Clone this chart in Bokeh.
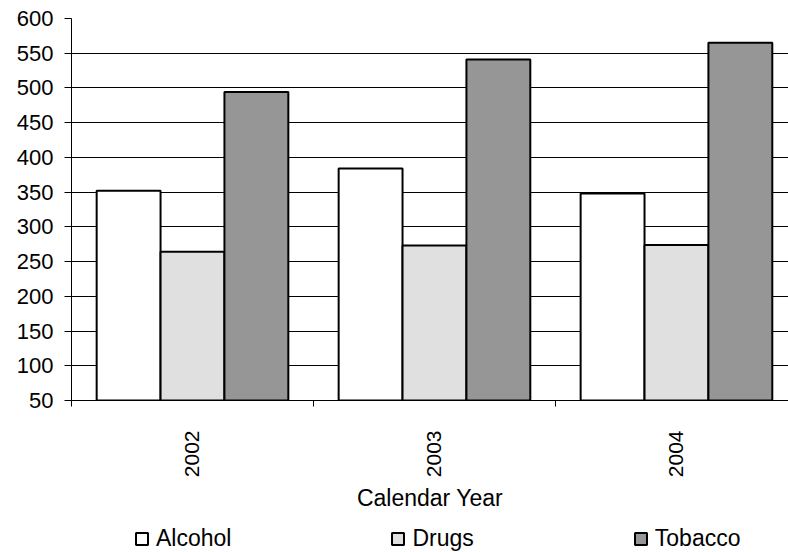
import math
from bokeh.plotting import figure
from bokeh.layouts import column
from bokeh.models import (ColumnDataSource, Range1d, FixedTicker, Legend, LegendItem)
from bokeh.transform import dodge
from bokeh.embed import file_html
from bokeh.resources import INLINE

years = ["2002", "2003", "2004"]
alcohol = [352, 384, 348]
drugs = [264, 273, 274]
tobacco = [494, 541, 565]
series_names = ["Alcohol", "Drugs", "Tobacco"]
series_colors = ["#FFFFFF", "#E0E0E0", "#969696"]
y_ticks = list(range(50, 601, 50))

pos = [i + 0.5 for i in range(len(years))]
src = ColumnDataSource(dict(pos=pos, Alcohol=alcohol, Drugs=drugs, Tobacco=tobacco))

FONT = "Liberation Sans"

p = figure(width=788, height=517, output_backend="svg", toolbar_location=None,
           x_range=Range1d(0, 2.963), y_range=Range1d(50, 600),
           min_border_left=71, min_border_right=0, min_border_top=18, min_border_bottom=117)
p.outline_line_color = None
p.background_fill_color = "white"
p.border_fill_color = "white"

bw = 0.264
offsets = [-bw, 0.0, bw]
for name, col, off in zip(series_names, series_colors, offsets):
    p.vbar(x=dodge("pos", off), top=name, bottom=50, width=bw, source=src,
           fill_color=col, line_color="black", line_width=2)

# x axis
xa = p.xaxis[0]
xa.ticker = FixedTicker(ticks=pos, minor_ticks=[0, 1, 2, 3])
xa.major_label_overrides = {pv: y for pv, y in zip(pos, years)}
xa.major_tick_out = 0
xa.major_tick_in = 0
xa.minor_tick_out = 6
xa.minor_tick_in = 0
xa.minor_tick_line_color = "black"
xa.axis_line_color = "black"
xa.major_label_orientation = math.pi / 2
xa.major_label_standoff = 24
xa.major_label_text_font = FONT
xa.major_label_text_font_size = "21px"
xa.major_label_text_color = "black"
xa.axis_label = "Calendar Year"
xa.axis_label_text_font = FONT
xa.axis_label_text_font_size = "23px"
xa.axis_label_text_font_style = "normal"
xa.axis_label_text_color = "black"
xa.axis_label_standoff = 5

# y axis
ya = p.yaxis[0]
ya.ticker = FixedTicker(ticks=y_ticks)
ya.major_tick_out = 7
ya.major_tick_in = 0
ya.minor_tick_out = 0
ya.minor_tick_in = 0
ya.axis_line_color = "black"
ya.major_tick_line_color = "black"
ya.major_label_standoff = 11
ya.major_label_text_font = FONT
ya.major_label_text_font_size = "22px"
ya.major_label_text_color = "black"

p.xgrid.grid_line_color = None
p.ygrid.ticker = FixedTicker(ticks=y_ticks)
p.ygrid.grid_line_color = "black"
p.ygrid.grid_line_width = 1

# legend strip below the chart (hidden key renderers, only the legend keys show)
lg = figure(width=788, height=35, output_backend="svg", toolbar_location=None,
            x_range=Range1d(10, 11), y_range=Range1d(-2, -1),
            x_axis_type=None, y_axis_type=None,
            min_border_left=0, min_border_right=0, min_border_top=0, min_border_bottom=0)
lg.outline_line_color = None
lg.xgrid.grid_line_color = None
lg.ygrid.grid_line_color = None
items = []
for name, col in zip(series_names, series_colors):
    r = lg.vbar(x="pos", top=name, bottom=50, width=0.1, source=src,
                fill_color=col, line_color="black", line_width=2)
    r.visible = False
    items.append(LegendItem(label=name, renderers=[r]))

legend = Legend(items=items, orientation="horizontal", location=(63, 0),
                glyph_width=15, glyph_height=15, label_standoff=7,
                spacing=159, padding=2, margin=0,
                label_text_font=FONT, label_text_font_size="23px",
                label_text_color="black", border_line_color=None,
                background_fill_alpha=0, inactive_fill_alpha=0)
lg.add_layout(legend, "center")

layout = column(p, lg, spacing=0)
open("out.html", "w").write(file_html(layout, INLINE))
